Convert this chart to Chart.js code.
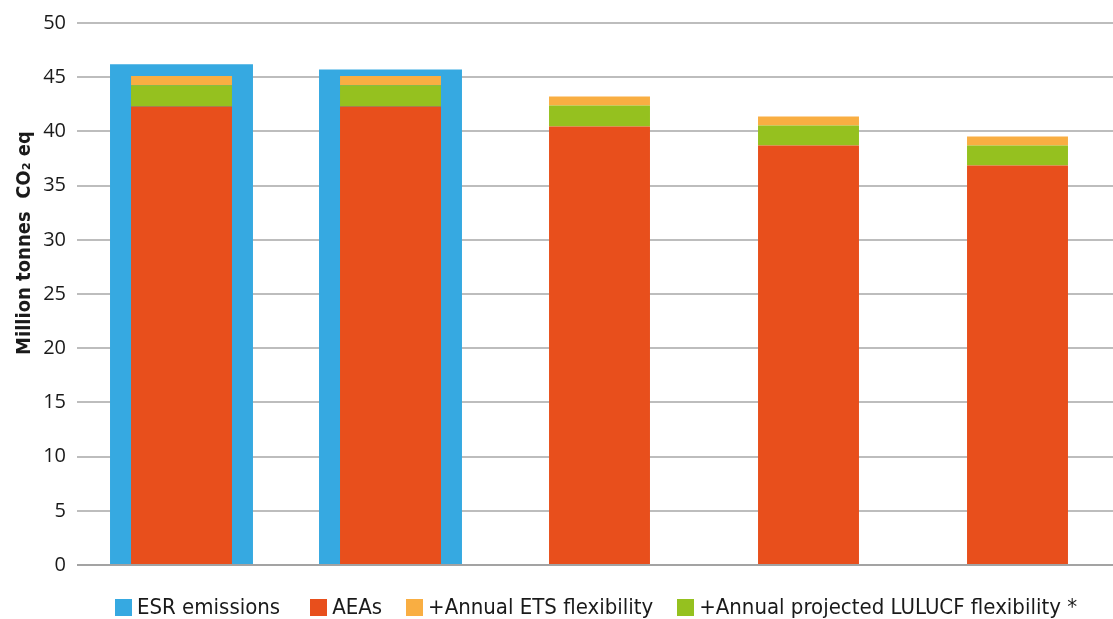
<!DOCTYPE html>
<html>
<head>
<meta charset="utf-8">
<title>ESR emissions and AEAs</title>
<script src="https://cdn.jsdelivr.net/npm/chart.js@4.4.1/dist/chart.umd.min.js"></script>
<style>
  html, body { margin: 0; padding: 0; background: #fff; overflow: hidden; }
  #wrap { position: relative; width: 1122px; height: 619px; }
  #legend {
    position: absolute; left: 115px; top: 598px;
    display: flex; white-space: nowrap;
    font-family: 'Liberation Sans Narrow', 'DejaVu Sans Condensed', sans-serif;
    font-size: 22px; line-height: 18px; color: #1a1a1a;
  }
  .item { display: flex; align-items: center; margin-right: 24px; }
  .item:first-child { margin-right: 30px; }
  .box { width: 17px; height: 17px; margin-right: 5px; }
</style>
</head>
<body>
<div id="wrap">
  <canvas id="myChart"></canvas>
  <div id="legend"></div>
</div>
<script>
const years = ["2021", "2022", "2023", "2024", "2025"];
const esrEmissions = [46.2, 45.7, null, null, null];
const aeas = [42.3, 42.3, 40.45, 38.7, 36.85];
const etsFlex = [0.85, 0.85, 0.83, 0.83, 0.83];
const lulucfFlex = [1.95, 1.95, 1.95, 1.85, 1.85];
const yMin = 0;
const yMax = 50;
const yStep = 5;

const narrow = "'Liberation Sans Narrow', 'DejaVu Sans Condensed', sans-serif";

// y axis title drawn by hand so it can sit a bit above the middle like the original
const yTitle = {
  id: "yTitle",
  afterDraw(chart) {
    const c = chart.ctx;
    c.save();
    c.translate(25, 243);
    c.rotate(-Math.PI / 2);
    c.font = "bold 20px " + narrow;
    c.fillStyle = "#1a1a1a";
    c.textAlign = "center";
    c.textBaseline = "middle";
    c.fillText("Million tonnes  CO\u2082 eq", 0, 0);
    c.restore();
  }
};

const ctx = document.getElementById("myChart").getContext("2d");
const chart = new Chart(ctx, {
  type: "bar",
  data: {
    labels: years,
    datasets: [
      {
        label: "ESR emissions",
        data: esrEmissions,
        backgroundColor: "#36a9e1",
        stack: "esr",
        order: 4,
        grouped: false,
        barPercentage: 0.684,
        categoryPercentage: 1
      },
      {
        label: "AEAs",
        data: aeas,
        backgroundColor: "#e84f1c",
        stack: "aea",
        order: 1,
        grouped: false,
        barPercentage: 0.483,
        categoryPercentage: 1
      },
      {
        label: "+Annual ETS flexibility",
        data: etsFlex,
        backgroundColor: "#f9ae42",
        stack: "aea",
        order: 3,
        grouped: false,
        barPercentage: 0.483,
        categoryPercentage: 1
      },
      {
        label: "+Annual projected LULUCF flexibility *",
        data: lulucfFlex,
        backgroundColor: "#95c11f",
        stack: "aea",
        order: 2,
        grouped: false,
        barPercentage: 0.483,
        categoryPercentage: 1
      }
    ]
  },
  options: {
    responsive: true,
    maintainAspectRatio: false,
    animation: false,
    layout: { padding: { top: 23, bottom: 54, left: 0, right: 0 } },
    plugins: {
      legend: { display: false },
      tooltip: { enabled: false }
    },
    scales: {
      x: { display: false, stacked: true },
      y: {
        stacked: true,
        min: yMin,
        max: yMax,
        afterFit: (scale) => { scale.width = 77; },
        ticks: {
          stepSize: yStep,
          padding: 11,
          color: "#1a1a1a",
          font: { family: "'Open Sans', sans-serif", size: 20 }
        },
        grid: {
          drawTicks: false,
          lineWidth: 2,
          color: (c) => (c.tick && c.tick.value === 0 ? "#a3a3a3" : "#bdbdbd")
        },
        border: { display: false }
      }
    }
  },
  plugins: [yTitle]
});

// legend built from the chart datasets
const legend = document.getElementById("legend");
chart.data.datasets.forEach((ds) => {
  const item = document.createElement("div");
  item.className = "item";
  item.innerHTML = `<span class="box" style="background:${ds.backgroundColor}"></span><span>${ds.label}</span>`;
  legend.appendChild(item);
});
</script>
</body>
</html>
